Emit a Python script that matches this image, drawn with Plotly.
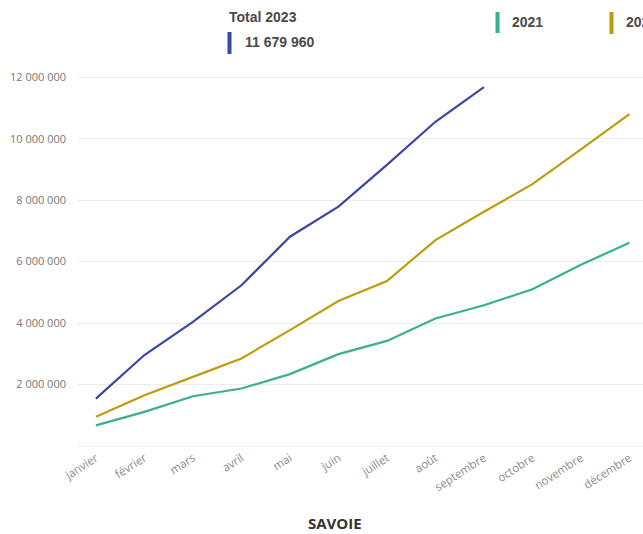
import plotly.graph_objects as go

# données
mois = ["janvier", "février", "mars", "avril", "mai", "juin", "juillet",
        "août", "septembre", "octobre", "novembre", "décembre"]
cumul_2021 = [670000, 1110000, 1620000, 1870000, 2340000, 2990000, 3420000,
              4150000, 4580000, 5100000, 5900000, 6610000]
cumul_2022 = [950000, 1650000, 2250000, 2850000, 3770000, 4720000, 5370000,
              6700000, 7620000, 8520000, 9650000, 10800000]
cumul_2023 = [1540000, 2960000, 4040000, 5230000, 6810000, 7790000, 9150000,
              10550000, 11679960]
y_ticks = [2000000, 4000000, 6000000, 8000000, 10000000, 12000000]
total_2023 = "11 679 960"

COULEURS = {"2021": "#3BAF92", "2022": "#BF9B0E", "2023": "#3B47A0"}

W, H = 643, 534
L, R, T, B = 77, 0, 60, 88


def px_x(x):
    return (x - L) / (W - L - R)


def px_y(y):
    return (H - B - y) / (H - T - B)


fig = go.Figure()

for annee, valeurs in [("2021", cumul_2021), ("2022", cumul_2022), ("2023", cumul_2023)]:
    fig.add_trace(go.Scatter(
        x=mois[:len(valeurs)],
        y=valeurs,
        name=annee,
        mode="lines",
        line=dict(color=COULEURS[annee], width=2.2),
        hovertemplate="%{x}: %{y:,d}<extra>" + annee + "</extra>",
    ))

# légende personnalisée
fig.add_annotation(text="<b>Total 2023</b>", x=px_x(227), y=px_y(17), xref="paper", yref="paper",
                   xanchor="left", yanchor="middle", showarrow=False,
                   font=dict(family="Liberation Sans, Arial", size=14, color="#4a4a4a"))
fig.add_annotation(text="<b>" + total_2023 + "</b>", x=px_x(243), y=px_y(42), xref="paper", yref="paper",
                   xanchor="left", yanchor="middle", showarrow=False,
                   font=dict(family="Liberation Sans, Arial", size=14, color="#4a4a4a"))
fig.add_annotation(text="<b>2021</b>", x=px_x(510), y=px_y(22), xref="paper", yref="paper",
                   xanchor="left", yanchor="middle", showarrow=False,
                   font=dict(family="Liberation Sans, Arial", size=14, color="#4a4a4a"))
fig.add_annotation(text="<b>2022</b>", x=px_x(624), y=px_y(22), xref="paper", yref="paper",
                   xanchor="left", yanchor="middle", showarrow=False,
                   font=dict(family="Liberation Sans, Arial", size=14, color="#4a4a4a"))

for xb, y0, y1, annee in [(229.5, 32, 54, "2023"), (497.5, 12, 33, "2021"), (611.5, 12, 34, "2022")]:
    fig.add_shape(type="line", xref="paper", yref="paper",
                  x0=px_x(xb), x1=px_x(xb), y0=px_y(y0), y1=px_y(y1),
                  line=dict(color=COULEURS[annee], width=4))

fig.add_annotation(text="<b>SAVOIE</b>", x=px_x(335), y=px_y(523), xref="paper", yref="paper",
                   xanchor="center", yanchor="middle", showarrow=False,
                   font=dict(family="Open Sans", size=15, color="#333333"))

fig.update_layout(
    width=W, height=H,
    margin={"l": L, "r": R, "t": T, "b": B, "pad": 0},
    paper_bgcolor="white",
    plot_bgcolor="white",
    showlegend=False,
    separators=", ",
    font=dict(family="Open Sans", color="#777777"),
)

fig.update_xaxes(
    range=[-0.39, 11.28],
    tickangle=-33,
    tickfont=dict(size=11.5, color="#8a8a8a"),
    showgrid=False,
    showline=True,
    linecolor="#eeeeee",
    linewidth=1,
    ticks="",
)

fig.update_yaxes(
    range=[0, 12560000],
    tickvals=y_ticks,
    tickformat=",d",
    tickfont=dict(size=11, color="#777777"),
    gridcolor="#ececec",
    gridwidth=1,
    zeroline=False,
    ticklabelstandoff=10,
)

fig.write_html("out.html", config={"displayModeBar": False},
               post_script="document.body.style.margin='0';document.body.style.overflow='hidden';")
